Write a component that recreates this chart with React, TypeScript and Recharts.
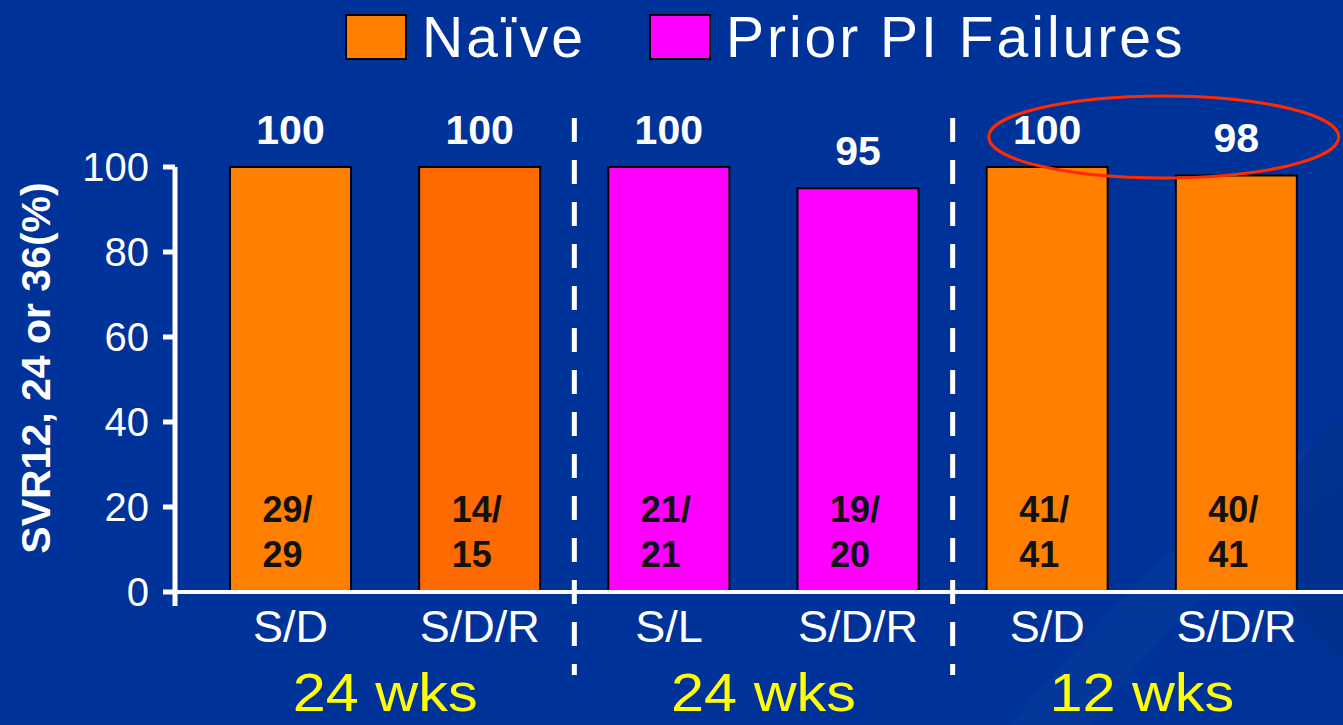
import { BarChart, Bar, XAxis, YAxis, Cell, LabelList, Legend, ReferenceLine } from "recharts"

const regimens = ["S/D", "S/D/R", "S/L", "S/D/R", "S/D", "S/D/R"]
const durations = ["24 wks", "24 wks", "12 wks"]
const svrRates = [100, 100, 100, 95, 100, 98]
const responders = [29, 14, 21, 19, 41, 40]
const patients = [29, 15, 21, 20, 41, 41]
const legendItems = ["Naïve", "Prior PI Failures"]
const yTicks = [0, 20, 40, 60, 80, 100]

const WIDTH = 1343
const HEIGHT = 725
const Y_AXIS_W = 175
const PAD_L = 21
const PAD_R = 12
const BAND = (WIDTH - Y_AXIS_W - PAD_L - PAD_R) / regimens.length
const HIGHLIGHT_BAR = 4 // first bar of the circled 12 wks group
const FONT = '"Liberation Sans", Arial, Helvetica, sans-serif'

const legendColors: Record<string, string> = { "Naïve": "#FF8000", "Prior PI Failures": "#FF00FF" }
// the second bar on the slide is a slightly redder orange
const barFills = ["#FF8000", "#FF6A00", "#FF00FF", "#FF00FF", "#FF8000", "#FF8000"]

const chartData = regimens.map((regimen, i) => ({
  regimen,
  svr: svrRates[i],
  responders: responders[i],
}))

function RegimenTick(props: any) {
  const { x, y, payload } = props
  const index = payload?.index ?? props.index
  const left = x - BAND / 2
  return (
    <g>
      <text x={x} y={y + 36} textAnchor="middle" fill="#fff" fontSize={45} fontFamily={FONT}>
        {payload.value}
      </text>
      {index % 2 === 1 && (
        <text
          transform={`translate(${left},${y + 105}) scale(1.1,1)`}
          textAnchor="middle"
          fill="#FFFF00"
          fontSize={54}
          fontFamily={FONT}
        >
          {durations[(index - 1) / 2]}
        </text>
      )}
      {index > 0 && index % 2 === 0 && (
        <line x1={left} x2={left} y1={y - 488} y2={y + 69} stroke="#fff" strokeWidth={5} strokeDasharray="24 18" />
      )}
    </g>
  )
}

function RateLabel(props: any) {
  const { x, y, width, value, index } = props
  const cx = x + width / 2
  return (
    <g>
      <text x={cx} y={y - 23} textAnchor="middle" fill="#fff" fontSize={41} fontWeight="bold" fontFamily={FONT}>
        {value}
      </text>
      {index === HIGHLIGHT_BAR && (
        <ellipse cx={cx + BAND / 2 + 22} cy={y - 30} rx={175} ry={41} fill="none" stroke="#FF2A00" strokeWidth={3} />
      )}
    </g>
  )
}

function FractionLabel(props: any) {
  const { x, y, width, height, index } = props
  const bottom = y + height
  const left = x + width / 2 - 28
  return (
    <text fill="#111" fontSize={36} fontWeight="bold" fontFamily={FONT}>
      <tspan x={left} y={bottom - 70}>{responders[index]}/</tspan>
      <tspan x={left} y={bottom - 25}>{patients[index]}</tspan>
    </text>
  )
}

function YLabel() {
  return (
    <text
      x={50}
      y={368}
      transform="rotate(-90, 50, 368)"
      textAnchor="middle"
      fill="#fff"
      fontSize={41}
      fontWeight="bold"
      fontFamily={FONT}
    >
      SVR12, 24 or 36(%)
    </text>
  )
}

function LegendBox() {
  return (
    <div style={{ display: "flex", alignItems: "center", paddingLeft: 345, fontFamily: FONT }}>
      {legendItems.map((name) => (
        <div key={name} style={{ display: "flex", alignItems: "center", marginRight: 63 }}>
          <span
            style={{ width: 58, height: 42, background: legendColors[name], border: "2px solid #000", marginRight: 15 }}
          />
          <span style={{ color: "#fff", fontSize: 57, lineHeight: "46px", letterSpacing: 3 }}>{name}</span>
        </div>
      ))}
    </div>
  )
}

export default function App() {
  return (
    <div style={{ position: "absolute", left: 0, top: 0, width: WIDTH, height: HEIGHT, background: "#003399", overflow: "hidden" }}>
      <svg width={WIDTH} height={HEIGHT} style={{ position: "absolute", left: 0, top: 0 }}>
        <path d="M 1010 725 C 1150 560, 1250 470, 1343 430 L 1343 480 C 1260 530, 1170 620, 1090 725 Z" fill="#ffffff" opacity={0.02} />
        <ellipse cx={1400} cy={540} rx={120} ry={140} fill="#002d88" opacity={0.5} />
      </svg>
      <div style={{ position: "absolute", left: 0, top: 0 }}>
        <BarChart width={WIDTH} height={HEIGHT} data={chartData} margin={{ top: 167, right: 0, bottom: 0, left: 0 }}>
          <XAxis
            dataKey="regimen"
            height={119}
            interval={0}
            axisLine={false}
            tickLine={false}
            tickSize={0}
            tickMargin={0}
            padding={{ left: PAD_L, right: PAD_R }}
            tick={<RegimenTick />}
          />
          <YAxis
            width={Y_AXIS_W}
            domain={[-3.3, 100]}
            ticks={yTicks}
            interval={0}
            axisLine={{ stroke: "#fff", strokeWidth: 5 }}
            tickLine={{ stroke: "#fff", strokeWidth: 5 }}
            tickSize={12}
            tickMargin={14}
            tick={{ fill: "#fff", fontSize: 40, fontFamily: FONT }}
            label={<YLabel />}
          />
          <Legend
            layout="vertical"
            align="center"
            verticalAlign="middle"
            wrapperStyle={{ top: 14, left: 0, width: WIDTH }}
            content={<LegendBox />}
          />
          <Bar dataKey="svr" barSize={121} stroke="#000" strokeWidth={2} isAnimationActive={false}>
            {chartData.map((_, i) => (
              <Cell key={`bar-${i}`} fill={barFills[i]} />
            ))}
            <LabelList dataKey="svr" content={<RateLabel />} />
            <LabelList dataKey="responders" content={<FractionLabel />} />
          </Bar>
          <ReferenceLine y={0} stroke="#fff" strokeWidth={4} />
        </BarChart>
      </div>
    </div>
  )
}
